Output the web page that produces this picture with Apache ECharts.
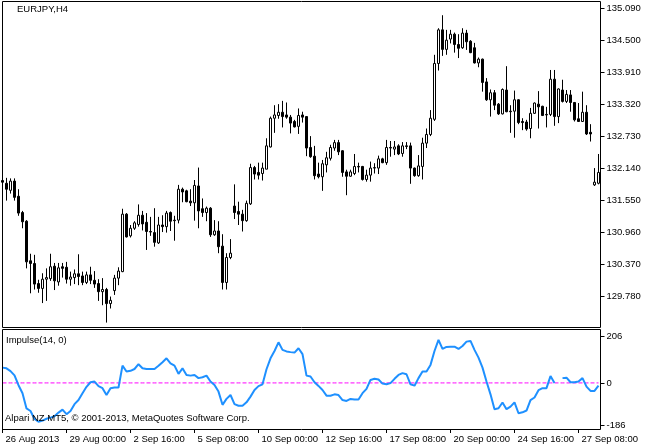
<!DOCTYPE html>
<html><head><meta charset="utf-8">
<script src="https://cdn.jsdelivr.net/npm/echarts@6/dist/echarts.min.js"></script>
<style>html,body{margin:0;padding:0;background:#fff}#c{width:649px;height:447px}</style>
</head><body><div id="c"></div>
<script>
// ---- data ----
const tickLabels = ["26 Aug 2013","29 Aug 00:00","2 Sep 16:00","5 Sep 08:00","10 Sep 00:00","12 Sep 16:00","17 Sep 08:00","20 Sep 00:00","24 Sep 16:00","27 Sep 08:00"];
const tickEvery = 16;
const priceTicks = [129.78,130.37,130.96,131.55,132.14,132.73,133.32,133.91,134.50,135.09];
const impulseTicks = [206, 0, -186];
const zeroLevel = 0;
// [open, close, low, high]
const ohlc = [
[131.91,131.88,131.86,131.94],[131.86,131.75,131.54,131.96],[131.73,131.90,131.67,131.95],[131.90,131.60,131.54,131.95],
[131.62,131.31,131.26,131.75],[131.32,131.15,131.03,131.35],[131.16,130.41,130.29,131.18],[130.43,130.38,129.83,130.56],
[130.38,130.00,129.90,130.54],[130.01,129.92,129.84,130.08],[129.92,130.09,129.65,130.20],[130.09,130.12,129.69,130.29],
[130.10,130.32,130.06,130.56],[130.33,130.06,129.89,130.39],[130.04,130.30,129.97,130.39],[130.32,130.29,130.12,130.39],
[130.31,130.09,130.01,130.41],[130.09,130.13,129.97,130.23],[130.12,130.19,130.00,130.27],[130.19,130.14,129.98,130.55],
[130.15,130.03,129.98,130.23],[130.03,130.17,130.00,130.23],[130.17,130.07,130.00,130.32],[130.07,130.00,129.93,130.24],
[130.01,129.86,129.69,130.09],[129.86,129.90,129.61,130.11],[129.90,129.64,129.29,129.93],[129.64,129.70,129.55,129.77],
[129.88,130.11,129.80,130.17],[130.11,130.24,129.98,130.31],[130.23,131.29,130.22,131.39],[131.29,130.87,130.86,131.31],
[130.89,131.03,130.86,131.09],[131.03,131.13,131.00,131.16],[131.10,131.27,131.06,131.47],[131.27,131.11,130.99,131.35],
[131.14,130.97,130.63,131.31],[130.97,130.96,130.89,131.24],[130.95,130.77,130.69,131.40],[130.76,131.09,130.74,131.24],
[131.09,131.06,130.96,131.27],[131.06,131.31,130.95,131.35],[131.32,131.16,130.98,131.34],[131.18,131.17,130.80,131.26],
[131.18,131.75,131.12,131.83],[131.75,131.70,131.51,131.78],[131.72,131.52,131.51,131.74],[131.53,131.50,131.44,131.75],
[131.50,131.82,131.17,131.92],[131.81,131.35,131.03,132.15],[131.39,131.32,131.24,131.58],[131.32,131.40,131.16,131.43],
[131.40,130.91,130.87,131.42],[130.91,130.98,130.89,131.18],[130.98,130.69,130.57,131.16],[130.70,130.03,129.90,130.92],
[130.03,130.49,129.90,130.57],[130.49,130.57,130.46,130.83],[131.44,131.32,131.20,131.84],[131.34,131.29,131.09,131.52],
[131.29,131.17,130.97,131.37],[131.17,131.49,131.15,131.54],[131.48,132.15,131.46,132.22],[132.15,132.03,131.93,132.18],
[132.06,132.01,131.93,132.24],[132.04,132.14,131.91,132.24],[132.12,132.55,132.12,132.69],[132.53,133.06,132.52,133.09],
[133.06,133.12,132.79,133.30],[133.11,133.17,133.05,133.32],[133.17,133.09,132.89,133.38],[133.12,133.08,133.05,133.35],
[133.08,132.97,132.78,133.12],[133.00,132.90,132.89,133.03],[132.91,133.11,132.77,133.24],[133.12,133.08,132.98,133.18],
[133.09,132.51,132.36,133.10],[132.52,132.35,132.33,132.73],[132.36,132.00,131.93,132.55],[132.03,131.98,131.95,132.24],
[131.98,132.22,131.72,132.29],[132.20,132.33,132.06,132.44],[132.32,132.52,132.28,132.57],[132.51,132.61,132.46,132.66],
[132.61,132.44,132.38,132.66],[132.46,132.06,131.98,132.47],[132.07,131.99,131.64,132.11],[131.99,132.07,131.98,132.11],
[132.04,132.17,132.01,132.40],[132.17,132.16,132.06,132.24],[132.17,131.93,131.91,132.18],[131.93,132.01,131.89,132.11],
[132.01,132.14,131.89,132.26],[132.14,132.15,132.04,132.23],[132.14,132.31,132.03,132.37],[132.31,132.24,132.23,132.33],
[132.24,132.52,132.20,132.66],[132.52,132.51,132.35,132.64],[132.49,132.53,132.38,132.64],[132.55,132.40,132.38,132.58],
[132.41,132.55,132.35,132.62],[132.55,132.54,132.49,132.62],[132.55,132.14,131.85,132.61],[132.14,132.00,131.98,132.15],
[132.00,132.18,131.98,132.38],[132.17,132.60,131.93,132.70],[132.60,132.76,132.51,132.87],[132.76,133.06,132.73,133.21],
[133.04,134.07,133.01,134.23],[134.07,134.69,133.94,134.72],[134.69,134.33,134.21,134.96],[134.33,134.50,134.23,134.69],
[134.52,134.61,134.44,134.69],[134.61,134.42,134.27,134.64],[134.42,134.35,134.17,134.61],[134.36,134.63,134.34,134.72],
[134.63,134.47,134.32,134.69],[134.48,134.27,134.26,134.50],[134.36,134.08,134.07,134.45],[134.08,134.15,134.00,134.18],
[134.15,133.72,133.55,134.16],[133.73,133.40,133.38,133.80],[133.40,133.53,133.09,133.59],[133.53,133.30,133.21,133.58],
[133.32,133.14,133.12,133.34],[133.14,133.59,133.13,133.61],[133.58,133.18,133.17,134.02],[133.19,133.18,132.79,133.30],
[133.19,133.40,132.70,133.57],[133.40,132.98,132.95,133.41],[133.00,132.98,132.84,133.06],[132.99,132.86,132.83,133.03],
[132.87,133.15,132.69,133.25],[133.15,133.34,133.14,133.35],[133.32,133.27,132.87,133.56],[133.28,133.11,133.10,133.29],
[133.13,133.12,132.89,133.27],[133.13,133.78,133.10,133.95],[133.78,133.09,132.92,133.95],[133.09,133.60,132.97,133.61],
[133.58,133.37,133.35,133.77],[133.37,133.50,133.34,133.58],[133.49,133.35,133.18,133.58],[133.35,133.03,133.00,133.36],
[133.05,133.00,132.99,133.34],[133.00,133.17,132.99,133.55],[133.17,132.77,132.75,133.30],[132.80,132.77,132.63,132.95],
[131.83,131.88,131.81,132.14],[131.86,132.06,131.84,132.40]
];
const impulse = [
67,64,52,33,-10,-45,-112,-123,-158,-170,
-165,-157,-152,-146,-130,-117,-137,-123,-93,-75,
-45,-17,3,6,-14,-23,-53,-23,-20,-20,
76,50,53,61,82,64,61,61,61,75,
91,108,86,76,40,64,35,32,35,21,
25,32,6,-9,-38,-96,-70,-53,-93,-100,
-100,-85,-60,-31,-14,-6,60,108,140,178,
145,138,135,133,152,126,32,28,3,-13,
-31,-56,-56,-50,-53,-75,-79,-70,-73,-73,
-45,-26,13,18,15,-3,-6,-1,18,35,
43,38,-6,-12,21,50,50,79,140,189,
149,158,159,159,149,162,181,184,145,111,
67,6,-50,-115,-111,-86,-115,-104,-85,-133,
-129,-121,-75,-64,-32,-23,-23,30,0,null,
21,23,3,3,6,21,-16,-35,-35,-12
];
// H4 bar times, weekends skipped, from 26 Aug 2013 08:00
const categories = [];
(function () {
  let t = Date.UTC(2013, 7, 26, 8);
  while (categories.length < ohlc.length) {
    const d = new Date(t), wd = d.getUTCDay();
    if (wd !== 0 && wd !== 6) categories.push(d.toISOString().slice(0, 16).replace('T', ' '));
    t += 4 * 3600 * 1000;
  }
})();
const zeroLine = categories.map(() => zeroLevel);

// ---- chart ----
const FONT = 'Liberation Sans';
const FS = 9.5;
const chart = echarts.init(document.getElementById('c'), null, {renderer: 'canvas'});
const isTick = (i) => i % tickEvery === 0;
chart.setOption({
  animation: false,
  backgroundColor: '#ffffff',
  grid: [
    {left: 0.5, top: 2, width: 600, height: 326},
    {left: 0.5, top: 330, width: 600, height: 99}
  ],
  xAxis: [
    {type: 'category', gridIndex: 0, data: categories, boundaryGap: true, show: false},
    {type: 'category', gridIndex: 1, data: categories, boundaryGap: true,
     axisLine: {show: false, onZero: false},
     axisTick: {show: true, alignWithLabel: true, interval: isTick, length: 4, lineStyle: {color: '#000'}},
     axisLabel: {interval: isTick, formatter: (v, i) => tickLabels[Math.round(i / tickEvery)],
       align: 'left', padding: [0, 0, 0, 3], margin: 5, color: '#000', fontFamily: FONT, fontSize: FS},
     splitLine: {show: false}}
  ],
  yAxis: [
    {type: 'value', gridIndex: 0, position: 'right', min: 129.19, max: 135.204,
     axisLine: {show: false}, splitLine: {show: false},
     axisTick: {show: true, customValues: priceTicks, length: 4, lineStyle: {color: '#000'}},
     axisLabel: {customValues: priceTicks, formatter: (v) => v.toFixed(3), margin: 6,
       color: '#000', fontFamily: FONT, fontSize: FS}},
    {type: 'value', gridIndex: 1, position: 'right', min: -202, max: 232,
     axisLine: {show: false}, splitLine: {show: false},
     axisTick: {show: true, customValues: impulseTicks, length: 4, lineStyle: {color: '#000'}},
     axisLabel: {customValues: impulseTicks, formatter: (v) => String(Math.round(v)), margin: 6,
       color: '#000', fontFamily: FONT, fontSize: FS}}
  ],
  series: [
    {type: 'candlestick', xAxisIndex: 0, yAxisIndex: 0, data: ohlc, barWidth: 2,
     itemStyle: {color: '#ffffff', color0: '#000000', borderColor: '#000000', borderColor0: '#000000',
       borderColorDoji: '#000000', borderWidth: 1}},
    {type: 'line', xAxisIndex: 1, yAxisIndex: 1, data: zeroLine, z: 1, silent: true,
     symbol: 'none', showSymbol: false, color: '#ff00ff',
     lineStyle: {color: '#ff00ff', type: [4, 2], width: 1}},
    {type: 'line', xAxisIndex: 1, yAxisIndex: 1, data: impulse, z: 3, symbol: 'none', showSymbol: false,
     connectNulls: false, color: '#1e90ff', lineStyle: {color: '#1e90ff', width: 2}}
  ],
  graphic: [
    {type: 'rect', z: 100, shape: {x: 2.5, y: 1.5, width: 598, height: 326}, style: {fill: null, stroke: '#000', lineWidth: 1}},
    {type: 'rect', z: 100, shape: {x: 2.5, y: 329.5, width: 598, height: 100}, style: {fill: null, stroke: '#000', lineWidth: 1}},
    {type: 'text', z: 101, x: 17, y: 9, style: {text: 'EURJPY,H4', fill: '#000', font: FS + 'px "' + FONT + '"', verticalAlign: 'middle'}},
    {type: 'text', z: 101, x: 6, y: 340, style: {text: 'Impulse(14, 0)', fill: '#000', font: FS + 'px "' + FONT + '"', verticalAlign: 'middle'}},
    {type: 'text', z: 101, x: 5, y: 418.5, style: {text: 'Alpari NZ MT5, © 2001-2013, MetaQuotes Software Corp.', fill: '#000', font: FS + 'px "' + FONT + '"', verticalAlign: 'middle'}}
  ]
});
</script></body></html>
